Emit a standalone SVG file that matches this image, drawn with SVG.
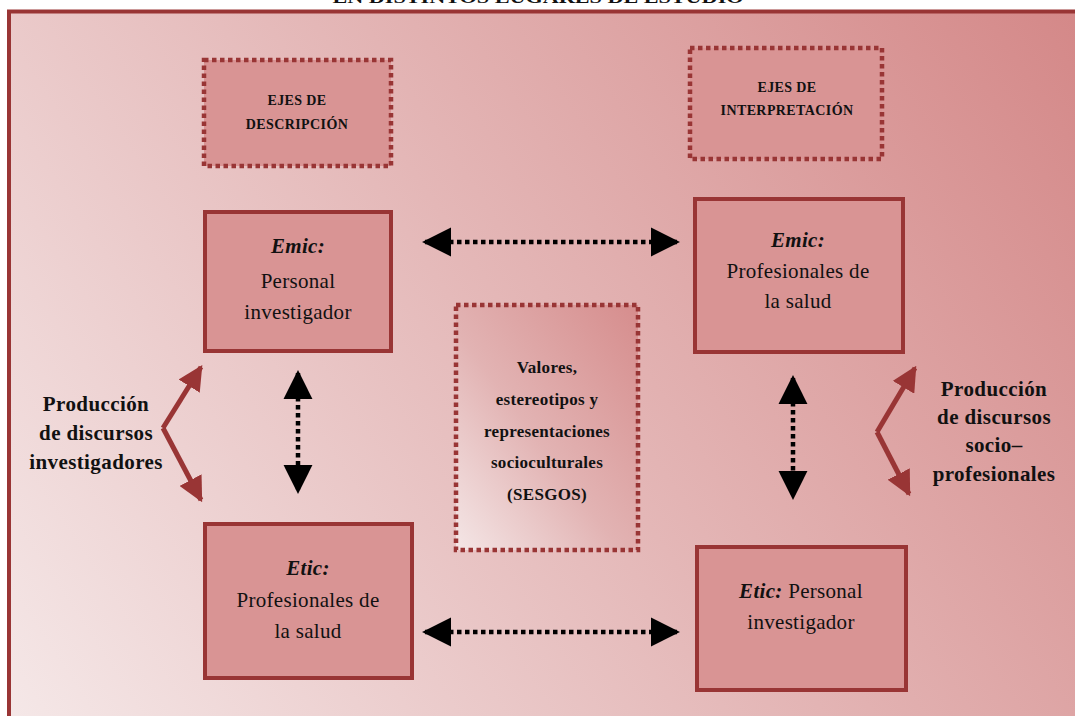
<svg xmlns="http://www.w3.org/2000/svg" width="1075" height="716" viewBox="0 0 1075 716">
  <defs>
    <linearGradient id="bg" x1="0" y1="716" x2="1075" y2="0" gradientUnits="userSpaceOnUse">
      <stop offset="0" stop-color="#f5e8e8"/>
      <stop offset="0.5" stop-color="#e4b7b7"/>
      <stop offset="1" stop-color="#d48888"/>
    </linearGradient>
    <linearGradient id="centre" x1="0" y1="1" x2="1" y2="0">
      <stop offset="0" stop-color="#f4e6e6"/>
      <stop offset="0.45" stop-color="#e2b3b3"/>
      <stop offset="1" stop-color="#d68d8d"/>
    </linearGradient>
    <marker id="ah" viewBox="0 0 10 10" refX="9" refY="5" markerWidth="6.5" markerHeight="7" orient="auto-start-reverse" markerUnits="strokeWidth">
      <path d="M0,0 L10,5 L0,10 Z" fill="#000"/>
    </marker>
    <marker id="rh" viewBox="0 0 10 10" refX="9" refY="5" markerWidth="5" markerHeight="5" orient="auto" markerUnits="strokeWidth">
      <path d="M0,0 L10,5 L0,10 Z" fill="#993535"/>
    </marker>
  </defs>
  <style>
    .box { fill: #d99494; stroke: #993535; stroke-width: 4; }
    .dash { fill: #d99494; stroke: #993535; stroke-width: 4.5; stroke-dasharray: 4.5 3.5; }
    .t { font-family: "Liberation Serif", "Times New Roman", serif; fill: #111; text-anchor: middle; }
    .n { font-size: 21px; letter-spacing: 0.3px; }
    .lbl { font-size: 21px; font-weight: bold; letter-spacing: 0.4px; }
    .ejes { font-size: 14px; font-weight: bold; letter-spacing: 0.4px; }
    .c { font-size: 17px; font-weight: bold; letter-spacing: 0.3px; }
    .bi { font-weight: bold; font-style: italic; }
    .dot { stroke: #000; stroke-width: 4.5; stroke-dasharray: 4.5 3.5; fill: none; }
    .red { stroke: #993535; stroke-width: 5; fill: none; }
  </style>

  <rect x="0" y="0" width="1075" height="716" fill="#ffffff"/>
  <text class="t" x="538" y="3" font-size="17" font-weight="bold" textLength="411" lengthAdjust="spacingAndGlyphs">EN DISTINTOS LUGARES DE ESTUDIO</text>

  <!-- outer frame -->
  <rect x="9" y="11.5" width="1080" height="720" fill="url(#bg)" stroke="#993535" stroke-width="4"/>

  <!-- axis headers -->
  <g id="ejes-descripcion">
    <rect class="dash" x="204" y="60" width="187" height="106"/>
    <text class="t ejes" x="297" y="105">EJES DE</text>
    <text class="t ejes" x="297" y="129">DESCRIPCIÓN</text>
  </g>
  <g id="ejes-interpretacion">
    <rect class="dash" x="690" y="48" width="192" height="111"/>
    <text class="t ejes" x="787" y="92">EJES DE</text>
    <text class="t ejes" x="787" y="115">INTERPRETACIÓN</text>
  </g>

  <!-- nodes -->
  <g id="emic-investigador">
    <rect class="box" x="205" y="212" width="186" height="139"/>
    <text class="t n bi" x="298" y="253">Emic:</text>
    <text class="t n" x="298" y="288">Personal</text>
    <text class="t n" x="298" y="319">investigador</text>
  </g>
  <g id="emic-profesionales">
    <rect class="box" x="695" y="199" width="208" height="153"/>
    <text class="t n bi" x="798" y="247">Emic:</text>
    <text class="t n" x="798" y="278">Profesionales de</text>
    <text class="t n" x="798" y="308">la salud</text>
  </g>
  <g id="etic-profesionales">
    <rect class="box" x="205" y="524" width="207" height="154"/>
    <text class="t n bi" x="308" y="575">Etic:</text>
    <text class="t n" x="308" y="607">Profesionales de</text>
    <text class="t n" x="308" y="638">la salud</text>
  </g>
  <g id="etic-investigador">
    <rect class="box" x="697" y="547" width="209" height="143"/>
    <text class="t n" x="801" y="598"><tspan class="bi">Etic:</tspan> Personal</text>
    <text class="t n" x="801" y="629">investigador</text>
  </g>
  <g id="sesgos">
    <rect class="dash" x="456" y="305" width="182" height="245" style="fill:url(#centre)"/>
    <text class="t c" x="547" y="373">Valores,</text>
    <text class="t c" x="547" y="405">estereotipos y</text>
    <text class="t c" x="547" y="437">representaciones</text>
    <text class="t c" x="547" y="468">socioculturales</text>
    <text class="t c" x="547" y="500">(SESGOS)</text>
  </g>

  <g id="produccion-investigadores">
    <text class="t lbl" x="96" y="411">Producción</text>
    <text class="t lbl" x="96" y="440">de discursos</text>
    <text class="t lbl" x="96" y="469">investigadores</text>
  </g>
  <g id="produccion-socioprofesionales">
    <text class="t lbl" x="994" y="396">Producción</text>
    <text class="t lbl" x="994" y="424">de discursos</text>
    <text class="t lbl" x="994" y="452">socio–</text>
    <text class="t lbl" x="994" y="481">profesionales</text>
  </g>

  <!-- connectors -->
  <g id="connectors">
    <line class="dot" x1="425" y1="242" x2="677" y2="242" marker-start="url(#ah)" marker-end="url(#ah)"/>
    <line class="dot" x1="425" y1="632" x2="677" y2="632" marker-start="url(#ah)" marker-end="url(#ah)"/>
    <line class="dot" x1="298" y1="373" x2="298" y2="491" marker-start="url(#ah)" marker-end="url(#ah)"/>
    <line class="dot" x1="793" y1="378" x2="793" y2="497" marker-start="url(#ah)" marker-end="url(#ah)"/>
    <polyline class="red" points="163,428 201,367" marker-end="url(#rh)"/>
    <polyline class="red" points="163,428 201,500" marker-end="url(#rh)"/>
    <polyline class="red" points="877,432 915,368" marker-end="url(#rh)"/>
    <polyline class="red" points="877,432 909,494" marker-end="url(#rh)"/>
  </g>
</svg>
